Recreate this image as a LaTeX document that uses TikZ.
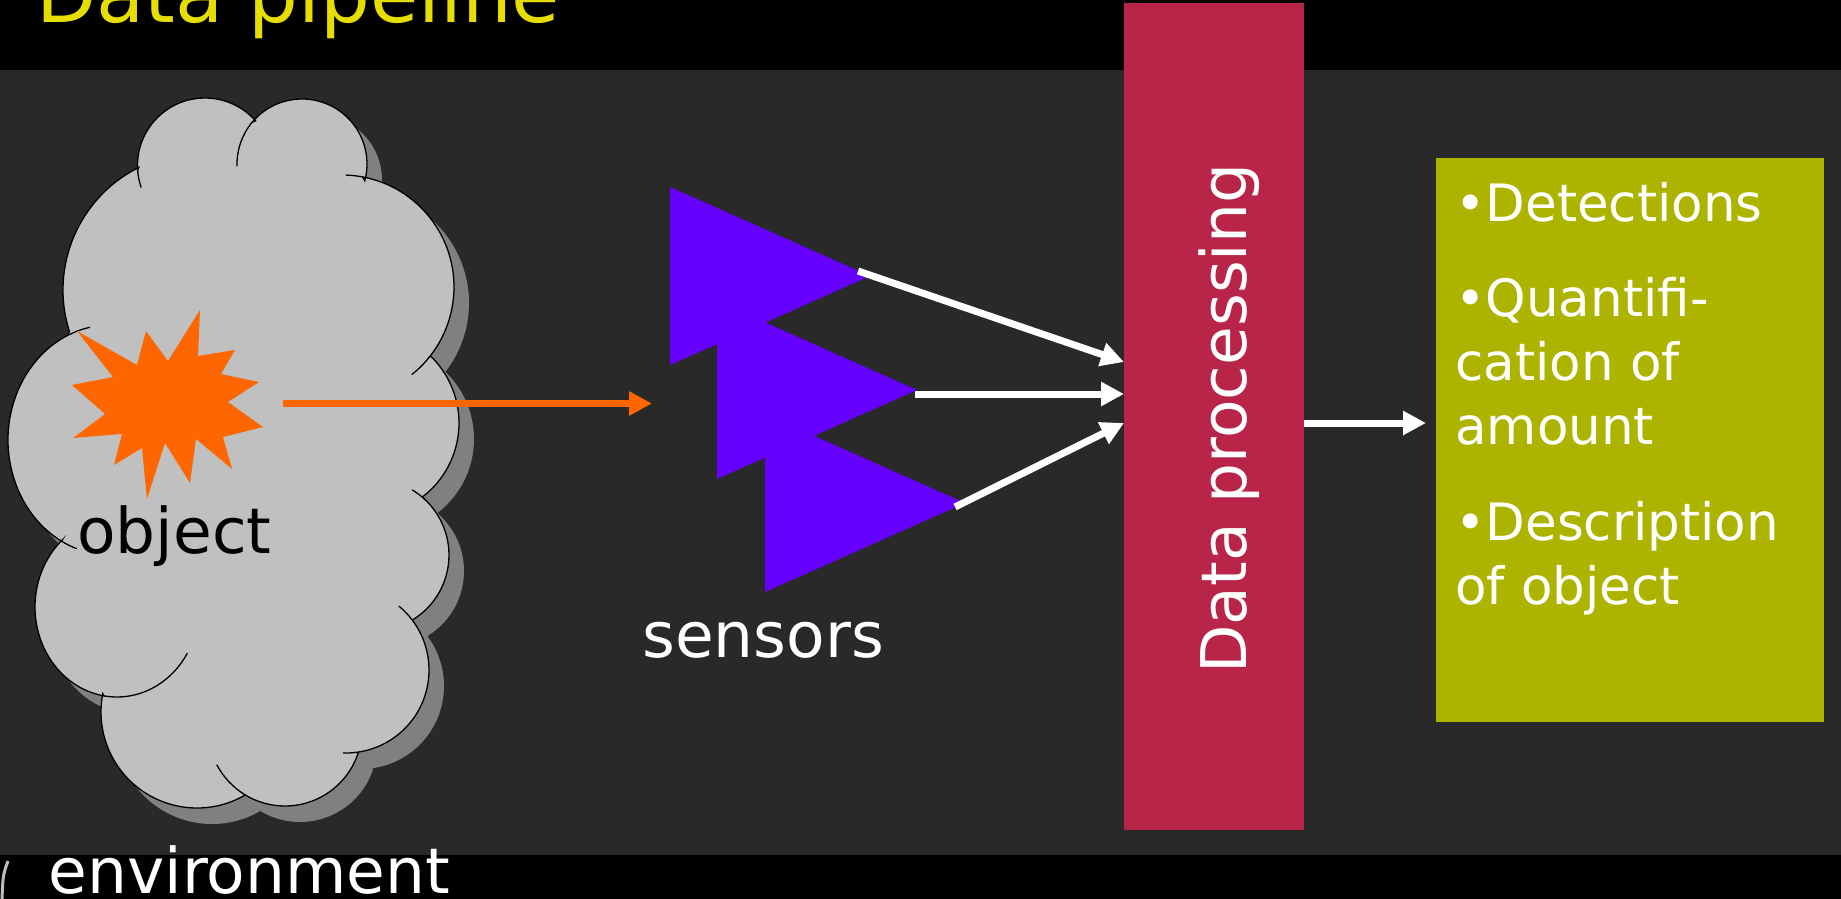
\documentclass[tikz,border=0pt]{standalone}
\usepackage{fontspec}
\setmainfont{DejaVu Sans}
\usetikzlibrary{arrows.meta}

\definecolor{bandgray}{RGB}{41,41,41}
\definecolor{titleyellow}{RGB}{230,222,0}
\definecolor{cloudgray}{RGB}{192,192,192}
\definecolor{shadowgray}{RGB}{128,128,128}
\definecolor{blastorange}{RGB}{255,102,0}
\definecolor{sensorviolet}{RGB}{102,0,255}
\definecolor{procred}{RGB}{184,37,72}
\definecolor{resultolive}{RGB}{173,180,0}
\definecolor{edgegray}{RGB}{190,190,190}

% one bump of the cloud: cx/cy/rx/ry/start/end
\def\cloudbumps{200/290/137/137/162.5/243.4, 205/165.5/67.5/67.5/176/318.5,
  302/164/65/65/220/375, 342/287/112/112/280.6/398.5, 366/423/93/93/314.1/412.3,
  373/555/76/76/311.8/417.8, 346/670/83/83/323.7/443, 285/729/77/77/18/121.2,
  197/712/96/96/60/191, 117/607/82/90/99.3/228, 110/440/102/115/118.4/245.8}

\begin{document}
\begin{tikzpicture}[x=0.5pt, y=-0.5pt,
    flow/.style={line width=3.5pt, -{Triangle[length=11.5pt, width=11.5pt]}},
    bodytext/.style={inner sep=0pt, anchor=base west, font=\fontsize{31.5}{38}\selectfont},
    cloudline/.style={line width=0.65pt, black}]
    \useasboundingbox (0,0) rectangle (1841,899);
    \fill[black] (0,0) rectangle (1841,899);
    \fill[bandgray] (0,70) rectangle (1841,855);

    % title
    \node[inner sep=0pt, anchor=base west, titleyellow, font=\fontsize{39.25}{47}\selectfont] (title) at (36,22.7) {Data pipeline};

    % environment cloud, shadow first
    \fill[shadowgray, shift={(15,16)}] (69.3,331.2)
        \foreach \cx/\cy/\rx/\ry/\a/\b in \cloudbumps {
            -- ({\cx+\rx*cos(\a)},{\cy+\ry*sin(\a)})
            arc[start angle=\a, end angle=\b, x radius=\rx, y radius=\ry]
        } -- cycle;
    \filldraw[cloudline, fill=cloudgray] (69.3,331.2)
        \foreach \cx/\cy/\rx/\ry/\a/\b in \cloudbumps {
            -- ({\cx+\rx*cos(\a)},{\cy+\ry*sin(\a)})
            arc[start angle=\a, end angle=\b, x radius=\rx, y radius=\ry]
        } -- cycle;
    % inner ends of the bumps
    \foreach \cx/\cy/\rx/\ry/\a/\b in {205/165.5/67.5/67.5/161/176, 302/164/65/65/178/220,
        342/287/112/112/272/280.6, 342/287/112/112/38.5/51.5, 373/555/76/76/301/311.8,
        346/670/83/83/309.6/323.7, 346/670/83/83/83/92, 285/729/77/77/121.2/152.4,
        117/607/82/90/30.9/99.3, 110/440/102/115/109/118.4, 110/440/102/115/245.8/258.7}
        \draw[cloudline] ({\cx+\rx*cos(\a)},{\cy+\ry*sin(\a)})
            arc[start angle=\a, end angle=\b, x radius=\rx, y radius=\ry];

    % the object
    \fill[blastorange] (77,331) -- (137,365) -- (146,331) -- (168,361) -- (200,310)
        -- (198,356) -- (235,350) -- (221,374) -- (259,382) -- (228,402) -- (263,427)
        -- (223,437) -- (232,469) -- (196,439) -- (190,483) -- (165,443) -- (147,499)
        -- (142,448) -- (114,465) -- (122,434) -- (73,438) -- (105,414) -- (72,385)
        -- (113,377) -- cycle;
    \node[bodytext, black] (obj) at (77,553) {object};
    \node[bodytext, white] (env) at (48.5,893) {environment};
    \draw[line width=1.5pt, edgegray] (8,861) .. controls (3,875) .. (2,899);

    % sensors
    \fill[sensorviolet] (670,187) -- (870,276) -- (670,365) -- cycle;
    \fill[sensorviolet] (717,301) -- (917,390) -- (717,479) -- cycle;
    \fill[sensorviolet] (765,414) -- (965,503) -- (765,592) -- cycle;
    \node[bodytext, white] (sens) at (642,657) {sensors};

    % processing and results
    \fill[procred] (1124,3) rectangle (1304,830);
    \node[bodytext, white, rotate=90] (proc) at (1246.5,674) {Data processing};
    \fill[resultolive] (1436,158) rectangle (1824,722);
    \node[inner sep=0pt, anchor=base west, white] (res) at (1455,221)
        {\parbox[t]{190pt}{\fontsize{25.75}{32}\selectfont\raggedright
        •Detections\par\vspace{15.75pt}
        •Quantifi-\\cation of\\amount\par\vspace{15.75pt}
        •Description\\of object}};

    % arrows
    \coordinate (blast) at (283,403.5);
    \coordinate (sensin) at (652,403.5);
    \coordinate (s1) at (858,271);
    \coordinate (s2) at (915,394);
    \coordinate (s3) at (955,507);
    \coordinate (d1) at (1124,362);
    \coordinate (d2) at (1124,394);
    \coordinate (d3) at (1124,423);
    \coordinate (dout) at (1304,423);
    \coordinate (rin) at (1426,423);
    \draw[flow, blastorange] (blast) -- (sensin);
    \draw[flow, white] (s1) -- (d1);
    \draw[flow, white] (s2) -- (d2);
    \draw[flow, white] (s3) -- (d3);
    \draw[flow, white] (dout) -- (rin);
\end{tikzpicture}
\end{document}
